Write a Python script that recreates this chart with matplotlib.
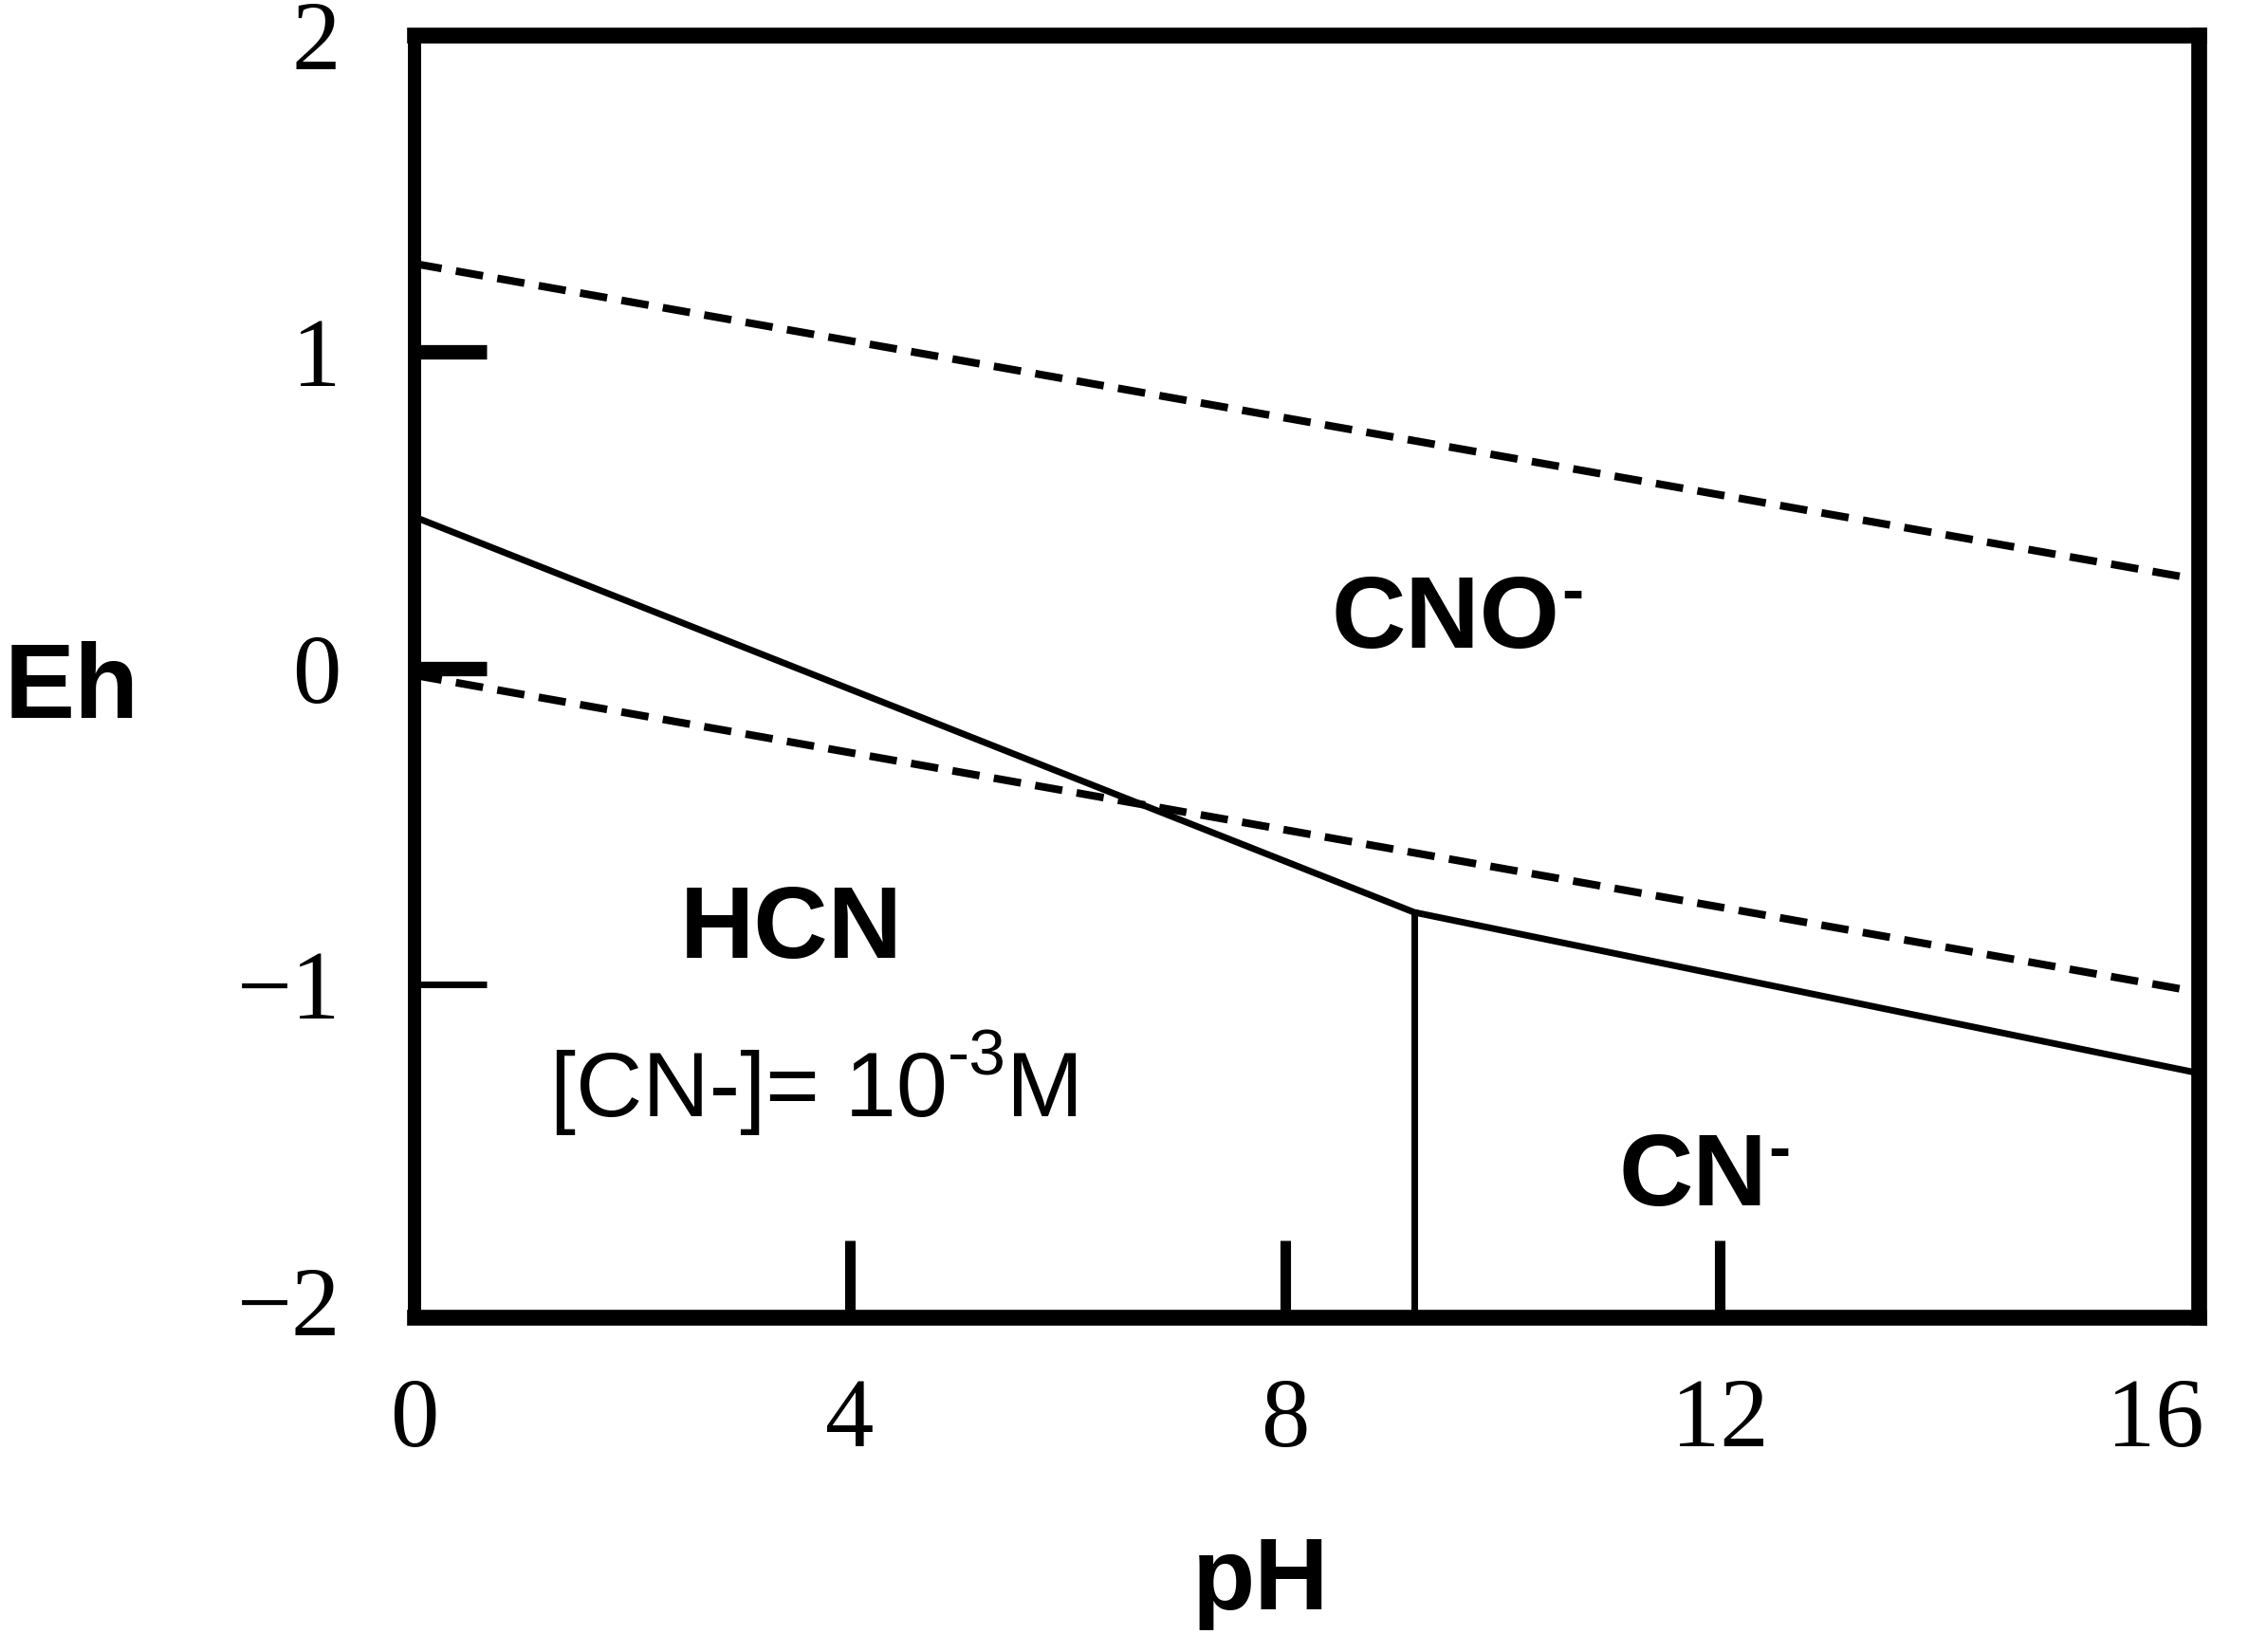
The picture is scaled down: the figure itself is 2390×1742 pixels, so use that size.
import matplotlib
matplotlib.use("Agg")
import matplotlib.pyplot as plt

# ---------- Dados (pH, Eh) ----------
ph_limite = [0, 16.4]
eh_o2 = [1.278, 0.280]          # linha tracejada superior
eh_h2 = [-0.022, -1.023]        # linha tracejada inferior

ph_solida = [0, 9.19, 16.4]
eh_solida = [0.478, -0.771, -1.279]

ph_vertical = [9.19, 9.19]
eh_vertical = [-2.05, -0.771]

x_ticks = [0, 4, 8, 12, 16]
y_ticks = [-2, -1, 0, 1, 2]
y_labels = ["\u22122", "\u22121", "0", "1", "2"]

# rótulos das regiões: (texto, pH, Eh, alinhamento, carga)
regioes = [
    ("CNO", 8.43, 0.065, "left", True),
    ("HCN", 3.46, -0.915, "center", False),
    ("CN", 11.07, -1.697, "left", True),
]

fonte_bold = ["Liberation Sans", "DejaVu Sans"]
fonte_num = ["Liberation Serif", "DejaVu Serif"]

# ---------- Figura ----------
fig = plt.figure(figsize=(23.9, 17.42), dpi=100)
ax = fig.add_axes([0.18285, 0.20264, 0.787, 0.7761])

ax.plot(ph_limite, eh_o2, color="black", lw=5.8, linestyle=(0, (3.6, 1.9)),
        dash_capstyle="butt")
ax.plot(ph_limite, eh_h2, color="black", lw=5.8, linestyle=(0, (3.6, 1.9)),
        dash_capstyle="butt")
ax.plot(ph_solida, eh_solida, color="black", lw=5)
ax.plot(ph_vertical, eh_vertical, color="black", lw=5)

ax.set_xlim(0, 16.4)
ax.set_ylim(-2.05, 2.0)

for lado in ["left", "right", "top", "bottom"]:
    ax.spines[lado].set_linewidth(12)
ax.spines["left"].set_linewidth(10)

ax.set_xticks(x_ticks)
ax.set_xticklabels([str(v) for v in x_ticks], fontfamily=fonte_num, fontsize=74)
ax.set_yticks(y_ticks)
ax.set_yticklabels(y_labels, fontfamily=fonte_num, fontsize=74)

ax.tick_params(axis="x", direction="in", length=58, width=8, pad=46)
ax.tick_params(axis="y", direction="in", length=55, width=11, pad=56)
ax.xaxis.get_major_ticks()[-1].tick1line.set_visible(False)
ax.yaxis.get_major_ticks()[0].tick1line.set_visible(False)
ax.yaxis.get_major_ticks()[-1].tick1line.set_visible(False)
ax.yaxis.get_major_ticks()[1].tick1line.set_markeredgewidth(5)

for texto, x, y, ha, carga in regioes:
    t = ax.text(x, y, texto, fontfamily=fonte_bold, fontweight="bold", fontsize=78,
                ha=ha, va="baseline")
    if carga:
        # sinal negativo pequeno no canto superior
        ax.annotate("-", xy=(1, 0.78), xycoords=t, xytext=(1, 0), textcoords="offset points",
                    fontfamily=fonte_bold, fontweight="bold", fontsize=50,
                    ha="left", va="center")

t_conc = ax.text(1.247, -1.415, "[CN-]= 10", fontfamily=fonte_bold,
                 fontsize=70, ha="left", va="baseline")
t_exp = ax.annotate("-3", xy=(1, 0.55), xycoords=t_conc, xytext=(0, 0),
                    textcoords="offset points", fontfamily=fonte_bold, fontsize=50,
                    ha="left", va="bottom")
ax.annotate("M", xy=(1, 0), xycoords=(t_exp, t_conc), xytext=(0, 0),
            textcoords="offset points", fontfamily=fonte_bold, fontsize=70,
            ha="left", va="bottom")

ax.set_ylabel("Eh", fontfamily=fonte_bold, fontweight="bold", fontsize=80,
              rotation=0, ha="center", va="center")
ax.yaxis.set_label_coords(-0.192, 0.489)
ax.set_xlabel("pH", fontfamily=fonte_bold, fontweight="bold", fontsize=78,
              ha="center", va="baseline")
ax.xaxis.set_label_coords(0.474, -0.228)

fig.savefig("out.png", dpi=100, facecolor="white")
